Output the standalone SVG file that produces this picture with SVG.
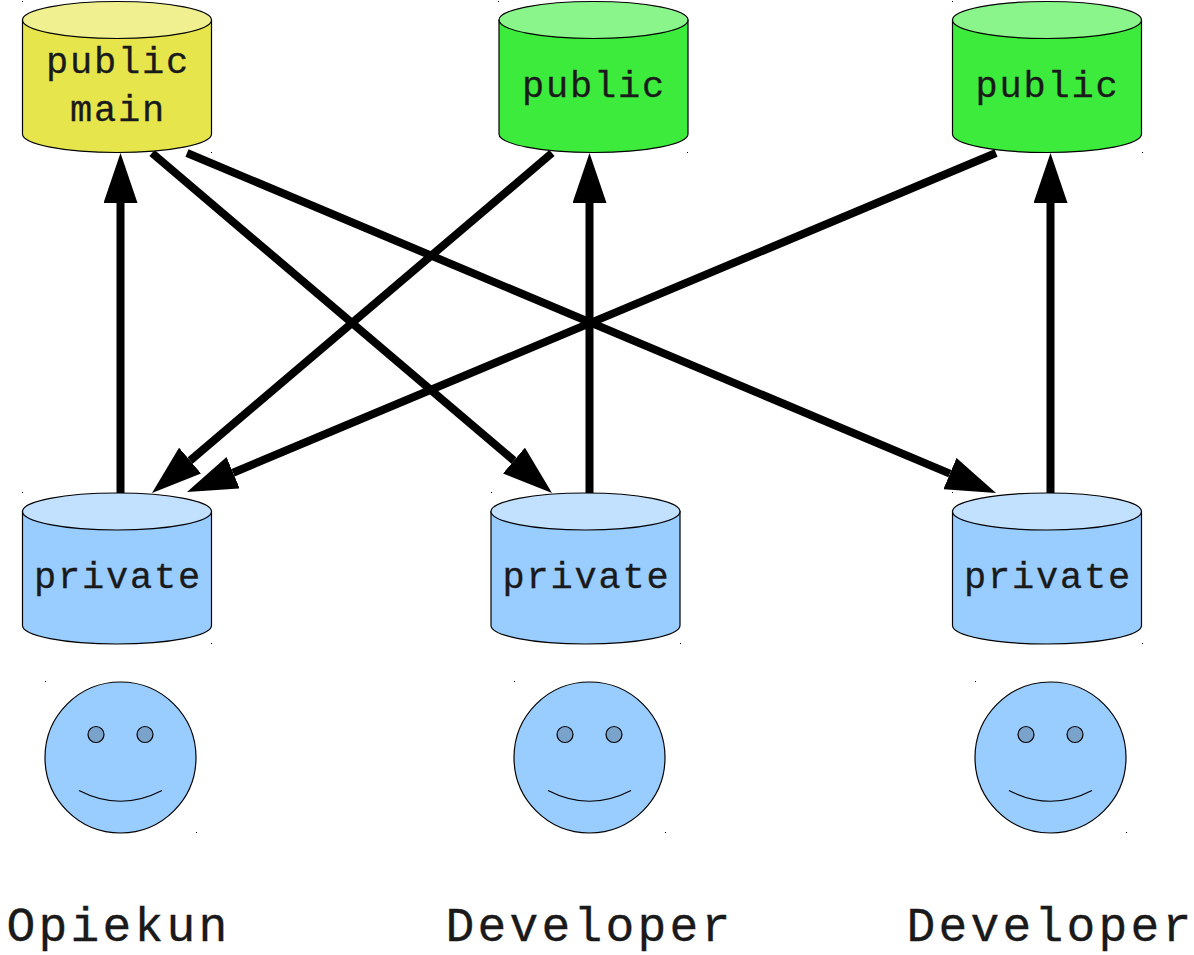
<svg xmlns="http://www.w3.org/2000/svg" width="1194" height="955" viewBox="0 0 1194 955">
<style>
.side{stroke:#000;stroke-width:1.2;fill:var(--s)}
.top{stroke:#000;stroke-width:1.2;fill:var(--t)}
.y{--s:#e6e64c;--t:#f0f090}
.g{--s:#3deb3d;--t:#8af58a}
.b{--s:#99ccff;--t:#c2e0ff}
text{font-family:"Liberation Mono",monospace;fill:#1a1a1a;text-anchor:middle;stroke:#1a1a1a;stroke-width:.3}
.t{font-size:37px;letter-spacing:1.8px}
.n{font-size:48px;letter-spacing:3.2px}
.face{fill:#99ccff;stroke:#000;stroke-width:1.2}
.eye{fill:#7aa3cc;stroke:#000;stroke-width:1.2}
.smile{fill:none;stroke:#000;stroke-width:1.2}
.c{fill:none;stroke:#000;stroke-width:8}
.d{fill:#000}
</style>
<defs>
<marker id="a" markerUnits="userSpaceOnUse" markerWidth="50" markerHeight="34" refX="0" refY="17" orient="auto"><path d="M0 0L50 17L0 34Z" fill="#000"/></marker>
<g id="cyl"><path class="side" d="M0 18.5V132.5A94.5 18.5 0 0 0 189 132.5V18.5Z"/><ellipse class="top" cx="94.5" cy="18.5" rx="94.5" ry="18.5"/></g>
<g id="person"><circle class="face" cx="75.5" cy="75.5" r="75.5"/><circle class="eye" cx="51" cy="52.500" r="8"/><circle class="eye" cx="100" cy="52.500" r="8"/><path class="smile" d="M34 108.500Q75.500 130 117 108.500"/></g>
</defs>
<g id="connectors">
<path class="c" marker-end="url(#a)" d="M120.500 493V203"/>
<path class="c" marker-end="url(#a)" d="M589.500 493V203"/>
<path class="c" marker-end="url(#a)" d="M1050.500 493V203"/>
<path class="c" marker-end="url(#a)" d="M152 153L513.900 460.600"/>
<path class="c" marker-end="url(#a)" d="M187 153L949.900 473.600"/>
<path class="c" marker-end="url(#a)" d="M552 153L190.100 460.600"/>
<path class="c" marker-end="url(#a)" d="M996 153L233.100 472.700"/>
</g>
<g id="public-main" class="y"><use href="#cyl" x="22.500" y="1.500"/><text class="t" x="118" y="73">public</text><text class="t" x="118" y="121">main</text></g>
<g id="public-2" class="g"><use href="#cyl" x="499" y="1.500"/><text class="t" x="594" y="97">public</text></g>
<g id="public-3" class="g"><use href="#cyl" x="952.500" y="1.500"/><text class="t" x="1047.500" y="97">public</text></g>
<g id="private-1" class="b"><use href="#cyl" x="22.500" y="493"/><text class="t" x="118" y="588">private</text></g>
<g id="private-2" class="b"><use href="#cyl" x="491" y="493"/><text class="t" x="586.500" y="588">private</text></g>
<g id="private-3" class="b"><use href="#cyl" x="952.500" y="493"/><text class="t" x="1048" y="588">private</text></g>
<g id="person-1"><use href="#person" x="45" y="682"/><text class="n" x="118.500" y="940.500">Opiekun</text></g>
<g id="person-2"><use href="#person" x="514" y="682"/><text class="n" x="589.500" y="940.500">Developer</text></g>
<g id="person-3"><use href="#person" x="975" y="682"/><text class="n" x="1050.500" y="940.500">Developer</text></g>
<g id="specks" class="d">
<rect x="22" y="1" width="1" height="1"/><rect x="211" y="152" width="1" height="1"/>
<rect x="498" y="1" width="1" height="1"/><rect x="687" y="152" width="1" height="1"/>
<rect x="952" y="1" width="1" height="1"/><rect x="1142" y="152" width="1" height="1"/>
<rect x="22" y="492" width="1" height="1"/><rect x="211" y="643" width="1" height="1"/>
<rect x="491" y="492" width="1" height="1"/><rect x="680" y="643" width="1" height="1"/>
<rect x="952" y="492" width="1" height="1"/><rect x="1142" y="643" width="1" height="1"/>
<rect x="45" y="681" width="1" height="1"/><rect x="196" y="832" width="1" height="1"/>
<rect x="514" y="681" width="1" height="1"/><rect x="665" y="832" width="1" height="1"/>
<rect x="975" y="681" width="1" height="1"/><rect x="1126" y="832" width="1" height="1"/>
</g>
</svg>
